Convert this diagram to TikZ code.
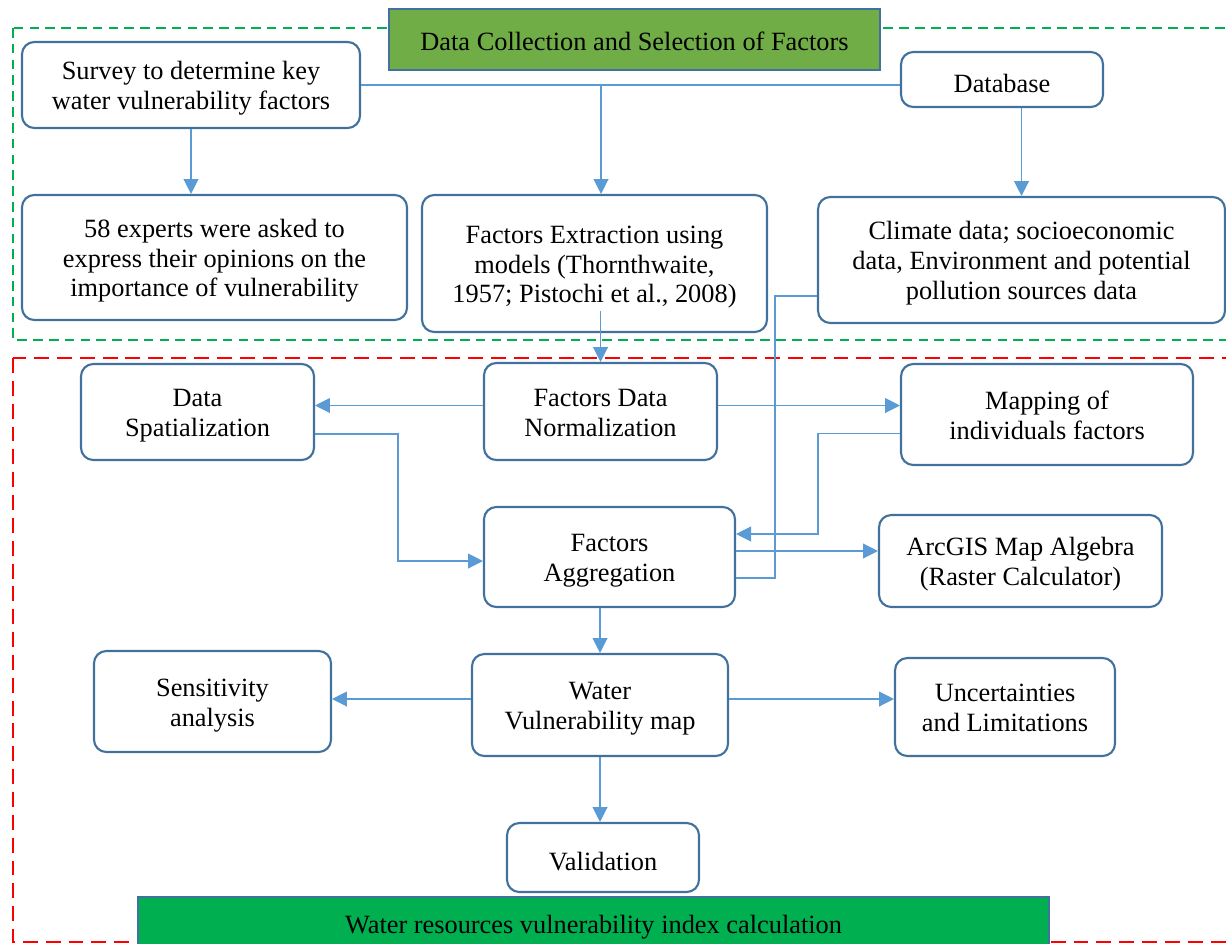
\documentclass[tikz,border=0pt]{standalone}
\usepackage{fontspec}
\setmainfont{Liberation Serif}
\usetikzlibrary{calc,arrows.meta}

\definecolor{boxblue}{HTML}{41719C}
\definecolor{linkblue}{HTML}{5B9BD5}
\definecolor{titlegreen}{HTML}{70AD47}
\definecolor{footgreen}{HTML}{00B050}
\definecolor{framegreen}{HTML}{00B050}
\definecolor{framered}{HTML}{FF0000}

\newcommand\boxtext[2][16pt]{\begin{tabular}{@{}c@{}}\rule{0pt}{#1}#2\end{tabular}}

\tikzset{
  dims/.style 2 args={minimum width=#1*0.02cm, minimum height=#2*0.02cm},
  stage/.style={draw=boxblue, line width=1.2pt, rounded corners=7pt, fill=white,
    inner sep=0pt, font=\fontsize{15}{17}\selectfont},
  banner/.style={draw=boxblue, line width=1.4pt, align=center, inner sep=0pt,
    font=\fontsize{15}{17}\selectfont, execute at begin node={\rule{0pt}{13pt}}},
  link/.style={draw=linkblue, line width=0.7pt},
  flow/.style={link, -{Triangle[length=8.5pt, width=8.5pt]}},
}

\begin{document}
\begin{tikzpicture}[x=0.02cm, y=-0.02cm]
  \useasboundingbox (0,0) rectangle (1226,943);

  \draw[framegreen, line width=1.5pt, dash pattern=on 5.5pt off 3.5pt] (13,28) rectangle (1240,340);
  \draw[framered, line width=1.5pt, dash pattern=on 8.5pt off 4.5pt] (13,358) rectangle (1240,942);

  \node[banner, fill=titlegreen, dims={491}{61}] (title) at (634.5,39.5) {Data Collection and Selection of Factors};

  \node[stage, dims={338}{86}]  (survey)     at (191,85)     {\boxtext{Survey to determine key\\water vulnerability factors}};
  \node[stage, dims={202}{55}]  (database)   at (1002,79.5)  {\boxtext[20pt]{Database}};
  \node[stage, dims={385}{125}] (experts)    at (214.5,257.5) {\boxtext{58 experts were asked to\\express their opinions on the\\importance of vulnerability}};
  \node[stage, dims={345}{137}] (extraction) at (594.5,263.5) {\boxtext{Factors Extraction using\\models (Thornthwaite,\\1957; Pistochi et al., 2008)}};
  \node[stage, dims={407}{126}] (climate)    at (1021.5,260) {\boxtext{Climate data; socioeconomic\\data, Environment and potential\\pollution sources data}};

  \node[stage, dims={233}{96}]  (spatial)    at (197.5,412)  {\boxtext{Data\\Spatialization}};
  \node[stage, dims={233}{97}]  (normal)     at (600.5,411.5) {\boxtext{Factors Data\\Normalization}};
  \node[stage, dims={292}{101}] (mapping)    at (1047,414.5) {\boxtext{Mapping of\\individuals factors}};
  \node[stage, dims={251}{100}] (aggreg)     at (609.5,557)  {\boxtext{Factors\\Aggregation}};
  \node[stage, dims={283}{92}]  (arcgis)     at (1020.5,561) {\boxtext{ArcGIS Map Algebra\\(Raster Calculator)}};
  \node[stage, dims={256}{102}] (wvmap)      at (600,705)    {\boxtext{Water\\Vulnerability map}};
  \node[stage, dims={237}{101}] (sensit)     at (212.5,701.5) {\boxtext{Sensitivity\\analysis}};
  \node[stage, dims={220}{98}]  (uncert)     at (1005,707)   {\boxtext{Uncertainties\\and Limitations}};
  \node[stage, dims={192}{69}]  (valid)      at (603,857.5)  {\boxtext[20pt]{Validation}};

  \node[banner, fill=footgreen, dims={911}{56}] (footer) at (593.5,925) {Water resources vulnerability index calculation};

  \coordinate (split) at (601,85);
  \draw[link] (survey.east) -- (survey.east -| database.west);
  \draw[flow] (split) -- (split |- extraction.north);
  \draw[flow] (survey.south) -- (survey.south |- experts.north);
  \draw[flow] (climate.north |- database.south) -- (climate.north);
  \draw[flow] ($(normal.north |- extraction.south)+(0,-22)$) -- (normal.north);

  \coordinate (nl) at ($(normal.west)+(0,-6)$);
  \coordinate (nr) at ($(normal.east)+(0,-6)$);
  \draw[flow] (nl) -- (nl -| spatial.east);
  \draw[flow] (nr) -- (nr -| mapping.west);

  \coordinate (sa) at ($(aggreg.west)+(0,4)$);
  \coordinate (ma) at ($(aggreg.east)+(0,-23)$);
  \coordinate (cl) at ($(climate.west)+(0,36)$);
  \draw[flow] ($(spatial.east)+(0,22)$) -| ($(sa)+(-85,0)$) -- (sa);
  \draw[flow] ($(mapping.west)+(0,19)$) -| ($(ma)+(82,0)$) -- (ma);
  \draw[link] ($(aggreg.east)+(0,21)$) -| ($(cl)+(-42,0)$) -- (cl);
  \coordinate (ag) at ($(aggreg.east)+(0,-6)$);
  \draw[flow] (ag) -- (ag -| arcgis.west);
  \draw[flow] (wvmap.north |- aggreg.south) -- (wvmap.north);

  \coordinate (wl) at ($(wvmap.west)+(0,-6)$);
  \coordinate (wr) at ($(wvmap.east)+(0,-6)$);
  \draw[flow] (wl) -- (wl -| sensit.east);
  \draw[flow] (wr) -- (wr -| uncert.west);
  \draw[flow] (wvmap.south) -- (wvmap.south |- valid.north);
\end{tikzpicture}
\end{document}
